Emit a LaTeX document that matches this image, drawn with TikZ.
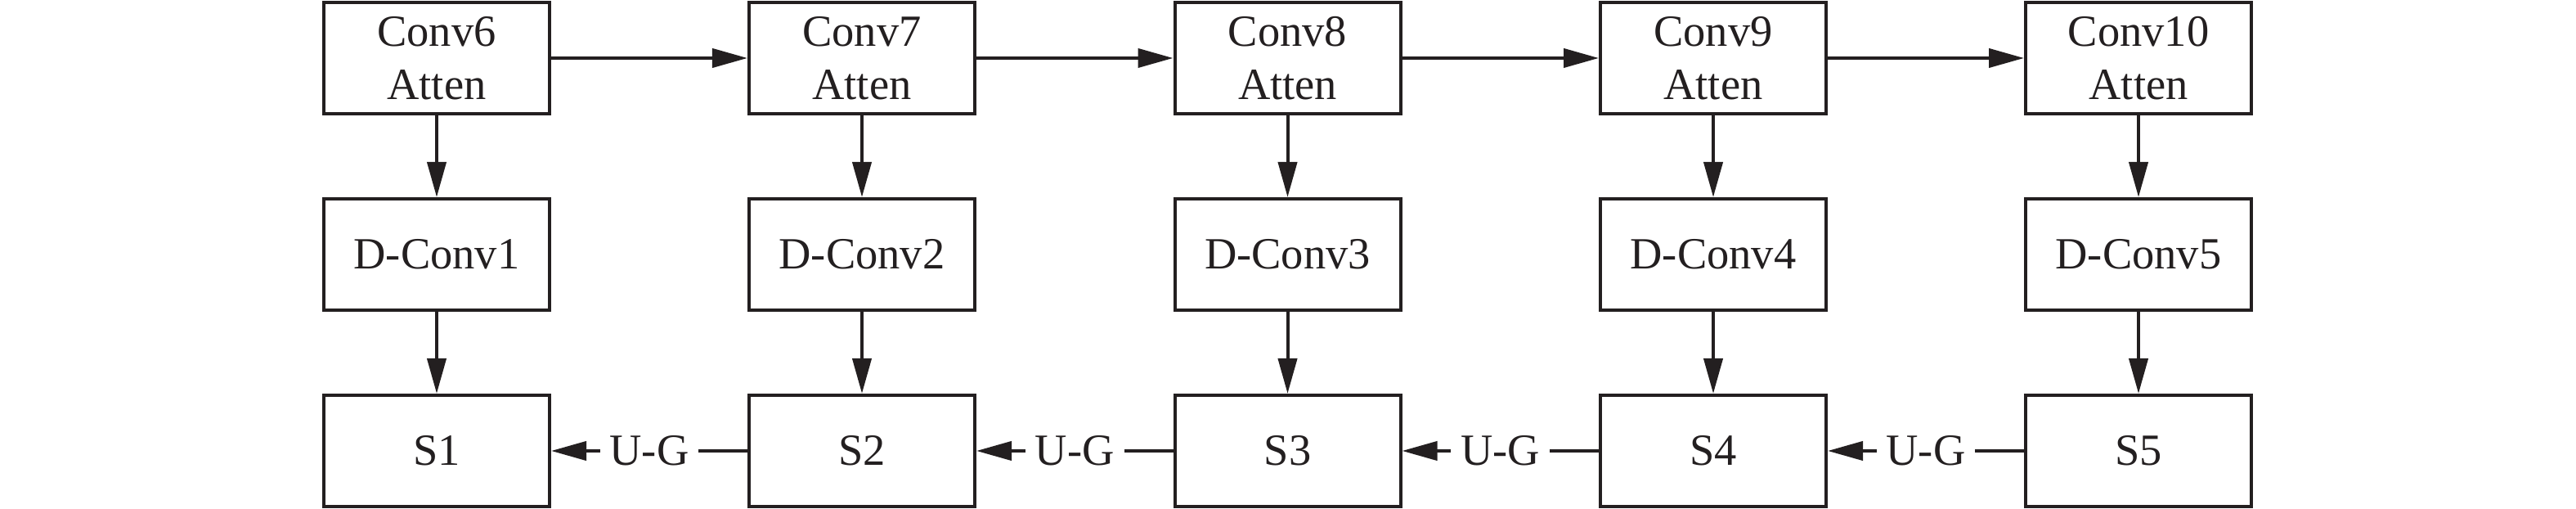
\documentclass[tikz,border=0pt]{standalone}
\usepackage{fontspec}
\setmainfont{Liberation Serif}
\usetikzlibrary{arrows.meta}
\definecolor{ink}{RGB}{35,31,32}
\begin{document}
\begin{tikzpicture}[>={Triangle[length=4.3mm,width=2.3mm]}, line width=1.15pt, draw=ink, text=ink]
\useasboundingbox (0,0) rectangle (31.5,-6.22);
\tikzstyle{blk}=[draw=ink,rectangle,minimum width=2.76cm,minimum height=1.36cm,align=center,inner sep=0pt,font=\fontsize{15.5}{18.6}\selectfont]
\tikzstyle{ug}=[fill=white,inner sep=0.12cm,font=\fontsize{15.5}{18.6}\selectfont]
\node[blk](c1) at (5.34,-0.71) {Conv6\\Atten};
\node[blk](c2) at (10.54,-0.71) {Conv7\\Atten};
\node[blk](c3) at (15.745,-0.71) {Conv8\\Atten};
\node[blk](c4) at (20.95,-0.71) {Conv9\\Atten};
\node[blk](c5) at (26.15,-0.71) {Conv10\\Atten};
\node[blk](d1) at (5.34,-3.11) {D-Conv1};
\node[blk](d2) at (10.54,-3.11) {D-Conv2};
\node[blk](d3) at (15.745,-3.11) {D-Conv3};
\node[blk](d4) at (20.95,-3.11) {D-Conv4};
\node[blk](d5) at (26.15,-3.11) {D-Conv5};
\node[blk](s1) at (5.34,-5.51) {S1};
\node[blk](s2) at (10.54,-5.51) {S2};
\node[blk](s3) at (15.745,-5.51) {S3};
\node[blk](s4) at (20.95,-5.51) {S4};
\node[blk](s5) at (26.15,-5.51) {S5};
% top row
\draw[->,ink] (c1) -- (c2);
\draw[->,ink] (c2) -- (c3);
\draw[->,ink] (c3) -- (c4);
\draw[->,ink] (c4) -- (c5);
% columns
\draw[->,ink] (c1) -- (d1);
\draw[->,ink] (c2) -- (d2);
\draw[->,ink] (c3) -- (d3);
\draw[->,ink] (c4) -- (d4);
\draw[->,ink] (c5) -- (d5);
\draw[->,ink] (d1) -- (s1);
\draw[->,ink] (d2) -- (s2);
\draw[->,ink] (d3) -- (s3);
\draw[->,ink] (d4) -- (s4);
\draw[->,ink] (d5) -- (s5);
% bottom row
\draw[->,ink] (s2) -- node[ug](u1){U-G} (s1);
\draw[->,ink] (s3) -- node[ug](u2){U-G} (s2);
\draw[->,ink] (s4) -- node[ug](u3){U-G} (s3);
\draw[->,ink] (s5) -- node[ug](u4){U-G} (s4);
\end{tikzpicture}
\end{document}
